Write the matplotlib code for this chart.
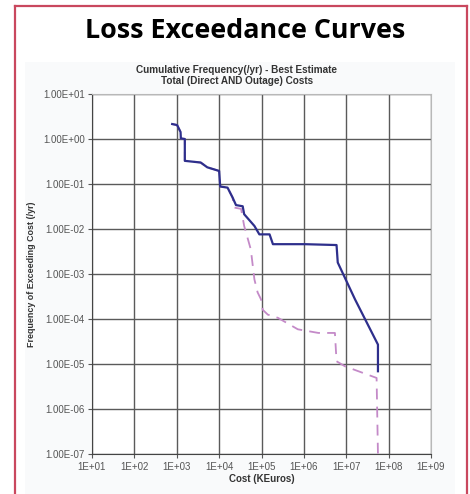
import numpy as np
import matplotlib.pyplot as plt
from matplotlib.patches import Rectangle
from matplotlib.lines import Line2D

# best estimate, total costs (solid)
cost_total = [7.8e2, 1.02e3, 1.23e3, 1.25e3, 1.55e3, 1.55e3, 3.67e3, 5.25e3, 1.0e4, 1.06e4,
              1.58e4, 2.08e4, 2.5e4, 3.6e4, 3.9e4, 6.8e4, 8.9e4, 1.55e5, 1.86e5, 1.05e6,
              5.9e6, 6.3e6, 1.62e7, 5.6e7, 5.6e7]
freq_total = [2.15, 2.04, 1.43, 1.03, 1.0, 0.327, 0.30, 0.235, 0.195, 0.088,
              0.083, 0.050, 0.034, 0.032, 0.0213, 0.0117, 0.0076, 0.0076, 0.0046, 0.0046,
              0.0044, 0.0018, 2.7e-4, 2.7e-5, 6.9e-6]

# second curve (dashed)
cost_alt = [7.8e2, 1.02e3, 1.23e3, 1.25e3, 1.55e3, 1.55e3, 3.67e3, 5.25e3, 1.0e4, 1.06e4,
            1.58e4, 2.08e4, 2.24e4, 3.3e4, 3.9e4, 5.6e4, 6.8e4, 8.1e4, 9.8e4, 1.07e5,
            1.41e5, 2.45e5, 7.2e5, 2.2e6, 5.4e6, 5.9e6, 9.3e6, 5.2e7, 5.6e7]
freq_alt = [2.15, 2.04, 1.43, 1.03, 1.0, 0.327, 0.30, 0.235, 0.195, 0.088,
            0.083, 0.050, 0.030, 0.028, 0.0117, 0.0035, 7.6e-4, 3.9e-4, 2.7e-4, 1.6e-4,
            1.25e-4, 1.06e-4, 5.9e-5, 4.9e-5, 4.9e-5, 1.15e-5, 8.9e-6, 4.9e-6, 1e-7]

x_ticks = [1e1, 1e2, 1e3, 1e4, 1e5, 1e6, 1e7, 1e8, 1e9]
x_labels = ['1E+01', '1E+02', '1E+03', '1E+04', '1E+05', '1E+06', '1E+07', '1E+08', '1E+09']
y_ticks = [1e-7, 1e-6, 1e-5, 1e-4, 1e-3, 1e-2, 1e-1, 1e0, 1e1]
y_labels = ['1.00E-07', '1.00E-06', '1.00E-05', '1.00E-04', '1.00E-03',
            '1.00E-02', '1.00E-01', '1.00E+00', '1.00E+01']

plt.rcParams['font.family'] = ['Liberation Sans', 'DejaVu Sans']

fig = plt.figure(figsize=(4.7, 4.94), dpi=100)
W, H = 470, 494

# light chart area and red frame
fig.patches.append(Rectangle((25 / W, 0), 430 / W, 1 - 62 / H, transform=fig.transFigure,
                             facecolor='#f9fafb', edgecolor='none', zorder=-5))
red = '#c9485e'
for xs, ys in [([15, 15], [6, 494]), ([15, 467], [6, 6]), ([467, 467], [6, 494])]:
    fig.lines.append(Line2D([v / W for v in xs], [1 - v / H for v in ys],
                            transform=fig.transFigure, color=red, lw=1.6, zorder=-5))

ax = fig.add_axes([92 / W, 1 - 454 / H, (431 - 92) / W, (454 - 94) / H])
ax.set_facecolor('white')
ax.set_xscale('log')
ax.set_yscale('log')
ax.set_xlim(1e1, 1e9)
ax.set_ylim(1e-7, 1e1)

ax.plot(cost_alt, freq_alt, color='#c48ac8', lw=1.3, ls=(0, (6, 4)), zorder=3)
ax.plot(cost_total, freq_total, color='#2e2f8c', lw=1.6, zorder=4)

ax.set_xticks(x_ticks)
ax.set_xticklabels(x_labels)
ax.set_yticks(y_ticks)
ax.set_yticklabels(y_labels)
ax.minorticks_off()
ax.grid(True, color='#5a5a5a', lw=1.0)
ax.set_axisbelow(True)
ax.tick_params(labelsize=7, colors='#555555', length=3, width=0.8, pad=2)
ax.tick_params(axis='x', pad=3)
for s in ['left', 'bottom']:
    ax.spines[s].set_color('#444444')
for s in ['top', 'right']:
    ax.spines[s].set_color('#b8b8b8')

ax.set_xlabel('Cost (KEuros)', fontsize=7, fontweight='bold', color='#333333', labelpad=1)
ax.set_ylabel('Frequency of Exceeding Cost (/yr)', fontsize=6.4, fontweight='bold',
              color='#333333', labelpad=5)

fig.text(245 / W, 1 - 31 / H, 'Loss Exceedance Curves', ha='center', va='center',
         fontsize=19.4, fontweight='bold', family=['Open Sans', 'DejaVu Sans'])
fig.text(237 / W, 1 - 70 / H, 'Cumulative Frequency(/yr) - Best Estimate',
         ha='center', va='center', fontsize=7.2, fontweight='bold', color='#333333')
fig.text(237 / W, 1 - 81 / H, 'Total (Direct AND Outage) Costs',
         ha='center', va='center', fontsize=7.2, fontweight='bold', color='#333333')

fig.savefig('out.png', dpi=100)
